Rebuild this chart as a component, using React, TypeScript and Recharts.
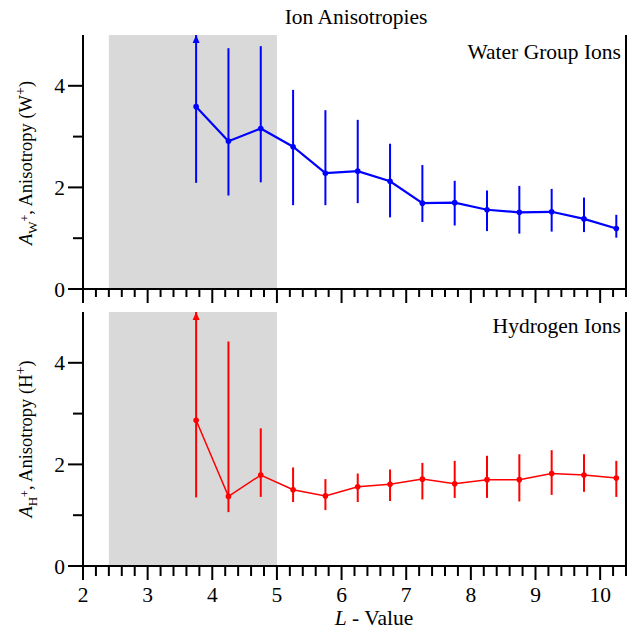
import {
  ComposedChart,
  Line,
  ErrorBar,
  Scatter,
  XAxis,
  YAxis,
  ReferenceArea,
} from 'recharts';

const lValues = [3.75, 4.25, 4.75, 5.25, 5.75, 6.25, 6.75, 7.25, 7.75, 8.25, 8.75, 9.25, 9.75, 10.25];

const waterMean = [3.59, 2.91, 3.16, 2.8, 2.28, 2.32, 2.12, 1.69, 1.7, 1.56, 1.51, 1.52, 1.38, 1.19];
const waterLow = [2.09, 1.84, 2.1, 1.65, 1.65, 1.69, 1.41, 1.32, 1.25, 1.14, 1.09, 1.13, 1.12, 1.01];
const waterHigh = [5.0, 4.74, 4.78, 3.92, 3.52, 3.33, 2.86, 2.44, 2.13, 1.94, 2.03, 1.97, 1.8, 1.46];

const hydrogenMean = [2.87, 1.37, 1.79, 1.5, 1.38, 1.56, 1.61, 1.71, 1.62, 1.7, 1.7, 1.82, 1.79, 1.73];
const hydrogenLow = [1.35, 1.06, 1.36, 1.26, 1.1, 1.26, 1.28, 1.31, 1.34, 1.34, 1.27, 1.4, 1.46, 1.36];
const hydrogenHigh = [5.0, 4.42, 2.71, 1.94, 1.71, 1.82, 1.9, 2.03, 2.07, 2.17, 2.2, 2.28, 2.2, 2.07];

// upper error runs off the top of the panel here -> arrow head
const offscaleL = [3.75];

const shadedFrom = 2.4;
const shadedTo = 5.0;
const xDomain = [2, 10.4];
const yDomain = [0, 5];
const yTicks = [0, 1, 2, 3, 4];
const yLabeled = [0, 2, 4];
// minor ticks every 0.2, majors on integers
const xTicks = Array.from({ length: 43 }, (_, i) => Math.round((2 + i * 0.2) * 10) / 10);

const FONT = '"Liberation Serif", "Times New Roman", serif';
const FS = 21.5;

function buildRows(means: number[], lows: number[], highs: number[]) {
  return lValues.map((L, i) => ({
    L,
    value: means[i],
    err: [means[i] - lows[i], highs[i] - means[i]],
  }));
}

function BottomTick(props: any) {
  const { x, y, payload, showLabel, minorLen } = props;
  const v = payload.value;
  const major = Math.abs(v - Math.round(v)) < 1e-6;
  return (
    <g>
      <line x1={x} y1={y} x2={x} y2={y + (major ? 14 : minorLen)} stroke="#000" strokeWidth={2} />
      {showLabel && major && (
        <text x={x} y={y + 36} textAnchor="middle" fontSize={FS} fontFamily={FONT} fill="#000">
          {v}
        </text>
      )}
    </g>
  );
}

function LeftTick({ x, y, payload }: any) {
  const v = payload.value;
  const major = yLabeled.includes(v);
  return (
    <g>
      <line x1={x - (major ? 15 : 10)} y1={y} x2={x} y2={y} stroke="#000" strokeWidth={2} />
      {major && (
        <text x={x - 18} y={y + 7.5} textAnchor="end" fontSize={FS} fontFamily={FONT} fill="#000">
          {v}
        </text>
      )}
    </g>
  );
}

function RightTick({ x, y }: any) {
  return <line x1={x} y1={y} x2={x + 11} y2={y} stroke="#000" strokeWidth={2} />;
}

function ArrowHead({ cx, cy, fill }: any) {
  return <polygon points={`${cx},${cy} ${cx - 3.5},${cy + 8} ${cx + 3.5},${cy + 8}`} fill={fill} />;
}

function Panel({
  means,
  lows,
  highs,
  color,
  lineWidth,
  height,
  marginTop,
  xAxisHeight,
  showLabels,
  minorLen,
}: {
  means: number[];
  lows: number[];
  highs: number[];
  color: string;
  lineWidth: number;
  height: number;
  marginTop: number;
  xAxisHeight: number;
  showLabels: boolean;
  minorLen: number;
}) {
  const rows = buildRows(means, lows, highs);
  const arrows = offscaleL.map((L) => ({ L, value: yDomain[1] }));
  return (
    <ComposedChart
      width={637}
      height={height}
      data={rows}
      margin={{ top: marginTop, right: 0, bottom: 0, left: 0 }}
    >
      <ReferenceArea x1={shadedFrom} x2={shadedTo} fill="#d9d9d9" fillOpacity={1} stroke="none" />
      <XAxis
        dataKey="L"
        type="number"
        domain={xDomain}
        ticks={xTicks}
        interval={0}
        allowDataOverflow
        height={xAxisHeight}
        tickSize={0}
        tickMargin={0}
        tickLine={false}
        axisLine={{ stroke: '#000', strokeWidth: 2 }}
        tick={(p: any) => <BottomTick {...p} showLabel={showLabels} minorLen={minorLen} />}
      />
      <XAxis
        xAxisId="top"
        orientation="top"
        type="number"
        domain={xDomain}
        height={0}
        tick={false}
        tickLine={false}
        axisLine={{ stroke: '#000', strokeWidth: 2 }}
      />
      <YAxis
        type="number"
        domain={yDomain}
        ticks={yTicks}
        interval={0}
        allowDataOverflow
        width={83}
        tickSize={0}
        tickMargin={0}
        tickLine={false}
        axisLine={{ stroke: '#000', strokeWidth: 2 }}
        tick={<LeftTick />}
      />
      <YAxis
        yAxisId="right"
        orientation="right"
        type="number"
        domain={yDomain}
        ticks={[1, 2, 3, 4]}
        interval={0}
        width={11}
        tickSize={0}
        tickMargin={0}
        tickLine={false}
        axisLine={{ stroke: '#000', strokeWidth: 2 }}
        tick={<RightTick />}
      />
      <Line
        dataKey="value"
        stroke={color}
        strokeWidth={lineWidth}
        dot={{ r: 2.8, fill: color, stroke: color, strokeWidth: 0 }}
        activeDot={false}
        isAnimationActive={false}
      >
        <ErrorBar dataKey="err" direction="y" width={0} stroke={color} strokeWidth={2} />
      </Line>
      <Scatter
        data={arrows}
        dataKey="value"
        fill={color}
        shape={<ArrowHead />}
        isAnimationActive={false}
      />
    </ComposedChart>
  );
}

function YLabel({ x, y, ion }: { x: number; y: number; ion: string }) {
  return (
    <text
      x={x}
      y={y}
      transform={`rotate(-90, ${x}, ${y})`}
      textAnchor="middle"
      fontSize={18.5}
      fontFamily={FONT}
      fill="#000"
    >
      <tspan fontStyle="italic">A</tspan>
      <tspan fontSize={13} dy={5}>{ion}</tspan>
      <tspan fontSize={12} dy={-8}>+</tspan>
      <tspan dy={3}>, Anisotropy (</tspan>
      <tspan>{ion}</tspan>
      <tspan fontSize={14} dy={-7}>+</tspan>
      <tspan dy={7}>)</tspan>
    </text>
  );
}

export default function App() {
  return (
    <div style={{ position: 'absolute', left: 0, top: 0, width: 637, height: 632, background: '#fff' }}>
      <div style={{ position: 'absolute', left: 0, top: 0 }}>
        <Panel
          means={waterMean}
          lows={waterLow}
          highs={waterHigh}
          color="#0000ff"
          lineWidth={2.2}
          height={310}
          marginTop={35}
          xAxisHeight={21}
          showLabels={false}
          minorLen={8}
        />
      </div>
      <div style={{ position: 'absolute', left: 0, top: 290 }}>
        <Panel
          means={hydrogenMean}
          lows={hydrogenLow}
          highs={hydrogenHigh}
          color="#ff0000"
          lineWidth={1.5}
          height={342}
          marginTop={22}
          xAxisHeight={66}
          showLabels
          minorLen={10}
        />
      </div>
      <svg
        width={637}
        height={632}
        style={{ position: 'absolute', left: 0, top: 0, pointerEvents: 'none' }}
      >
        <text x={356} y={24} textAnchor="middle" fontSize={FS} fontFamily={FONT} fill="#000">
          Ion Anisotropies
        </text>
        <text x={621} y={59} textAnchor="end" fontSize={FS} fontFamily={FONT} fill="#000">
          Water Group Ions
        </text>
        <text x={621} y={333} textAnchor="end" fontSize={FS} fontFamily={FONT} fill="#000">
          Hydrogen Ions
        </text>
        <text x={374} y={625} textAnchor="middle" fontSize={FS} fontFamily={FONT} fill="#000">
          <tspan fontStyle="italic">L</tspan>
          <tspan> - Value</tspan>
        </text>
        <YLabel x={32} y={163} ion="W" />
        <YLabel x={32} y={439} ion="H" />
      </svg>
    </div>
  );
}
